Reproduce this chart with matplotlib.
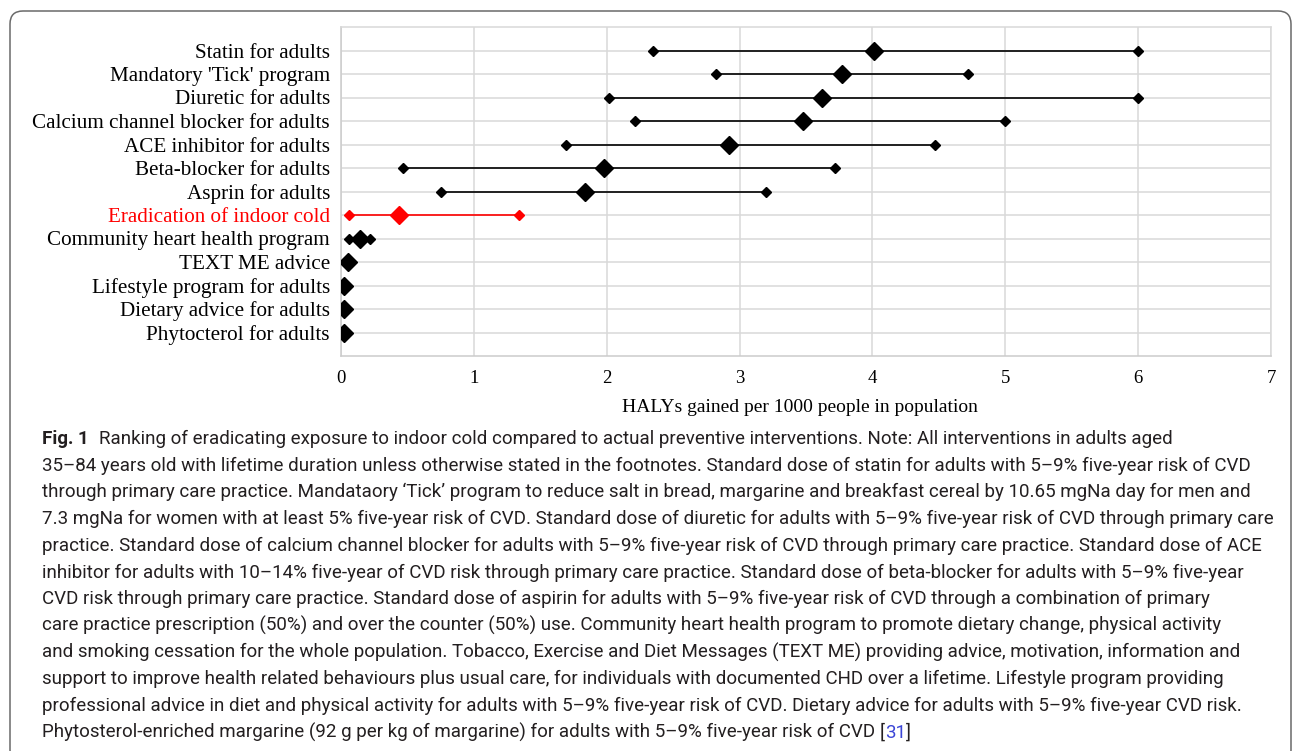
import matplotlib
matplotlib.use("Agg")
import matplotlib.pyplot as plt
import numpy as np
from matplotlib.patches import FancyBboxPatch
from matplotlib.transforms import IdentityTransform

# ---------------- data ----------------
categories = [
    "Statin for adults",
    "Mandatory 'Tick' program",
    "Diuretic for adults",
    "Calcium channel blocker for adults",
    "ACE inhibitor for adults",
    "Beta-blocker for adults",
    "Asprin for adults",
    "Eradication of indoor cold",
    "Community heart health program",
    "TEXT ME advice",
    "Lifestyle program for adults",
    "Dietary advice for adults",
    "Phytocterol for adults",
]
low_vals = [2.35, 2.82, 2.02, 2.21, 1.69, 0.47, 0.75, 0.06, 0.06,
            np.nan, np.nan, np.nan, np.nan]
mid_vals = [4.01, 3.77, 3.62, 3.48, 2.92, 1.98, 1.84, 0.44, 0.14,
            0.05, 0.02, 0.02, 0.02]
high_vals = [6.00, 4.72, 6.00, 5.00, 4.47, 3.72, 3.20, 1.34, 0.22,
             np.nan, np.nan, np.nan, np.nan]
highlight = "Eradication of indoor cold"
x_ticks = [0, 1, 2, 3, 4, 5, 6, 7]
x_label = "HALYs gained per 1000 people in population"

caption_lines = [
    "Ranking of eradicating exposure to indoor cold compared to actual preventive interventions. Note: All interventions in adults aged",
    "35\u201384 years old with lifetime duration unless otherwise stated in the footnotes. Standard dose of statin for adults with 5\u20139% five-year risk of CVD",
    "through primary care practice. Mandataory \u2018Tick\u2019 program to reduce salt in bread, margarine and breakfast cereal by 10.65 mgNa day for men and",
    "7.3 mgNa for women with at least 5% five-year risk of CVD. Standard dose of diuretic for adults with 5\u20139% five-year risk of CVD through primary care",
    "practice. Standard dose of calcium channel blocker for adults with 5\u20139% five-year risk of CVD through primary care practice. Standard dose of ACE",
    "inhibitor for adults with 10\u201314% five-year of CVD risk through primary care practice. Standard dose of beta-blocker for adults with 5\u20139% five-year",
    "CVD risk through primary care practice. Standard dose of aspirin for adults with 5\u20139% five-year risk of CVD through a combination of primary",
    "care practice prescription (50%) and over the counter (50%) use. Community heart health program to promote dietary change, physical activity",
    "and smoking cessation for the whole population. Tobacco, Exercise and Diet Messages (TEXT ME) providing advice, motivation, information and",
    "support to improve health related behaviours plus usual care, for individuals with documented CHD over a lifetime. Lifestyle program providing",
    "professional advice in diet and physical activity for adults with 5\u20139% five-year risk of CVD. Dietary advice for adults with 5\u20139% five-year CVD risk.",
    "Phytosterol-enriched margarine (92 g per kg of margarine) for adults with 5\u20139% five-year risk of CVD ",
]
fig_label = "Fig. 1"
ref_label = "31"

# ---------------- figure ----------------
W, H = 1293, 751
fig = plt.figure(figsize=(W / 100, H / 100), dpi=100)
fig.patch.set_facecolor("white")

# rounded frame
frame = FancyBboxPatch((10, -12), 1281, H - 10 + 12 - 1,
                       boxstyle="round,pad=0,rounding_size=13",
                       transform=IdentityTransform(), facecolor="none",
                       edgecolor="#6a6a6a", linewidth=1.1, zorder=0)
fig.patches.append(frame)

ax_l, ax_r, ax_t, ax_b = 341, 1271, 27, 356
ax = fig.add_axes([ax_l / W, 1 - ax_b / H, (ax_r - ax_l) / W, (ax_b - ax_t) / H])

serif = "Liberation Serif"
grid_c = "#d9d9d9"
n = len(categories)
ypos = np.arange(n, 0, -1)

for i, cat in enumerate(categories):
    col = "#ff0000" if cat == highlight else "black"
    y = ypos[i]
    lo, mi, hi = low_vals[i], mid_vals[i], high_vals[i]
    if not np.isnan(lo) and not np.isnan(hi):
        ax.plot([lo, hi], [y, y], color=col, lw=1.2, zorder=3)
        ax.plot([lo, hi], [y, y], linestyle="none", marker="D", ms=4.6,
                color=col, zorder=4)
    ax.plot([mi], [y], linestyle="none", marker="D", ms=9, color=col, zorder=5)

ax.set_xlim(0, 7)
ax.set_ylim(0, 14)
ax.set_xticks(x_ticks)
ax.set_xticklabels([str(t) for t in x_ticks], fontfamily=serif, fontsize=13.5)
ax.set_yticks(ypos)
ax.set_yticklabels(categories, fontfamily=serif, fontsize=15.2)
for lab in ax.get_yticklabels():
    if lab.get_text() == highlight:
        lab.set_color("#ff0000")
ax.tick_params(axis="both", length=0)
ax.tick_params(axis="x", pad=10)
ax.tick_params(axis="y", pad=8)

ax.grid(True, color=grid_c, lw=1.1, zorder=0)
ax.set_axisbelow(True)
for s in ax.spines.values():
    s.set_color(grid_c)
    s.set_linewidth(1.1)
ax.spines["left"].set_color("#cccccc")
ax.spines["bottom"].set_color("#cccccc")

ax.set_xlabel(x_label, fontfamily=serif, fontsize=14)
ax.xaxis.set_label_coords((800 - ax_l) / (ax_r - ax_l), (ax_b - 399) / (ax_b - ax_t))
ax.xaxis.label.set_va("top")

# ---------------- caption ----------------
cap_font = "Roboto"
cap_color = "#231f20"
fig.canvas.draw()
renderer = fig.canvas.get_renderer()

probe = fig.text(0, 0, caption_lines[3], fontfamily=cap_font, fontsize=10,
                 transform=IdentityTransform())
w10 = probe.get_window_extent(renderer).width
probe.remove()
cap_size = 10 * (1273 - 42) / w10

base0 = H - 444
spacing = 26.7

tf = fig.text(42, base0, fig_label, fontfamily=cap_font, fontweight="bold",
              fontsize=cap_size, color=cap_color, va="baseline",
              transform=IdentityTransform())
ef = tf.get_window_extent(renderer)
for k, line in enumerate(caption_lines):
    x0 = ef.x1 + 10 if k == 0 else 42
    t = fig.text(x0, base0 - k * spacing, line, fontfamily=cap_font,
                 fontsize=cap_size, color=cap_color, va="baseline",
                 transform=IdentityTransform())
last = t
ext = last.get_window_extent(renderer)
yb = base0 - (len(caption_lines) - 1) * spacing
t1 = fig.text(ext.x1, yb, "[", fontfamily=cap_font, fontsize=cap_size,
              color=cap_color, va="baseline", transform=IdentityTransform())
e1 = t1.get_window_extent(renderer)
t2 = fig.text(e1.x1, yb, ref_label, fontfamily=cap_font, fontsize=cap_size,
              color="#3b45d6", va="baseline", transform=IdentityTransform())
e2 = t2.get_window_extent(renderer)
fig.text(e2.x1, yb, "]", fontfamily=cap_font, fontsize=cap_size,
         color=cap_color, va="baseline", transform=IdentityTransform())

fig.savefig("out.png", dpi=100)
